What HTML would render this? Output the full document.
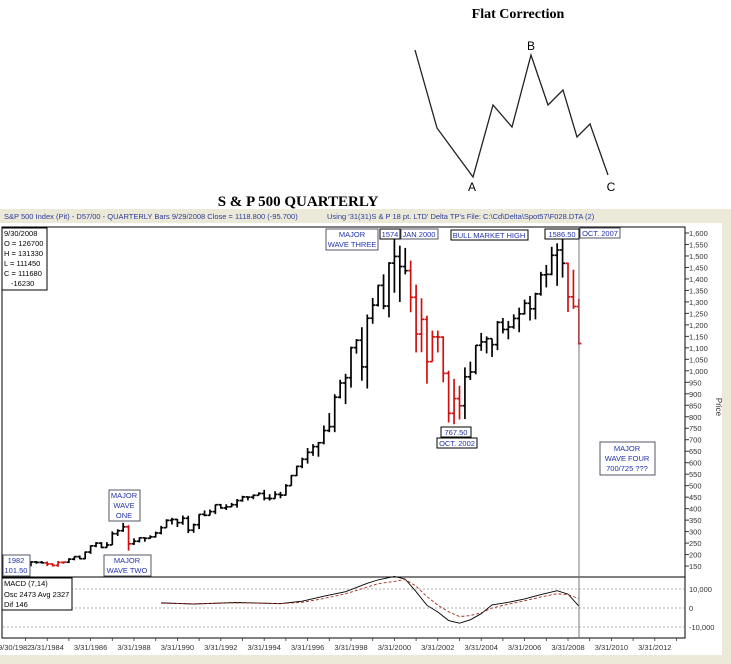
<!DOCTYPE html>
<html><head><meta charset="utf-8"><style>
html,body{margin:0;padding:0;background:#fff;}
svg{display:block;}
text{font-family:"Liberation Sans",sans-serif;}
.ser{font-family:"Liberation Serif",serif;font-weight:bold;}
</style></head><body>
<svg id="c" width="731" height="664" viewBox="0 0 731 664" xmlns="http://www.w3.org/2000/svg">
<text class="ser" x="518" y="18" font-size="14" text-anchor="middle">Flat Correction</text>
<g id="flat"></g>
<text x="472" y="191" font-size="12" text-anchor="middle">A</text>
<text x="531" y="50" font-size="12" text-anchor="middle">B</text>
<text x="611" y="191" font-size="12" text-anchor="middle">C</text>
<text class="ser" x="298" y="206" font-size="15" text-anchor="middle">S &amp; P 500 QUARTERLY</text>
<rect x="0" y="209" width="731" height="455" fill="#ece9d8"/>
<rect x="0" y="223" width="722" height="432" fill="#fff"/>
<text x="4" y="219" font-size="7.5" fill="#2a3c9a">S&amp;P 500 Index (Pit) - D57/00  - QUARTERLY Bars  9/29/2008 Close = 1118.800 (-95.700)</text>
<text x="327" y="219" font-size="7.5" fill="#2a3c9a">Using '31(31)S &amp; P 18 pt. LTD' Delta TP's    File: C:\Cd\Delta\Spot57\F028.DTA (2)</text>
<rect x="2" y="227" width="683" height="350" fill="none" stroke="#000" stroke-width="1"/>
<rect x="2" y="577" width="683" height="61" fill="none" stroke="#000" stroke-width="1"/>
<g id="yaxis"></g>
<g id="maxis"></g>
<g id="xaxis"></g>
<g id="bars"></g>
<g id="macd"></g>
<line x1="579" y1="227" x2="579" y2="638" stroke="#777" stroke-width="1"/>
<text x="716" y="407" font-size="8" fill="#333" transform="rotate(90 716 407)" text-anchor="middle">Price</text>
<g font-size="7.5" fill="#000">
<rect x="2" y="228" width="45" height="62" fill="#fff" stroke="#000"/>
<text x="4" y="236">9/30/2008</text>
<text x="4" y="246">O = 126700</text>
<text x="4" y="256">H = 131330</text>
<text x="4" y="266">L = 111450</text>
<text x="4" y="276">C = 111680</text>
<text x="11" y="286">-16230</text>
<rect x="2" y="578" width="70" height="32" fill="#fff" stroke="#000"/>
<text x="4" y="586">MACD (7,14)</text>
<text x="4" y="597">Osc 2473 Avg 2327</text>
<text x="4" y="607">Dif 146</text>
</g>
<g font-size="7.5" fill="#2233aa" text-anchor="middle">
<rect x="326" y="229" width="52" height="21" fill="#fff" stroke="#556"/>
<text x="352" y="237">MAJOR</text>
<text x="352" y="247">WAVE THREE</text>
<rect x="380" y="229" width="20" height="10" fill="#fff" stroke="#000"/>
<text x="390" y="237">1574</text>
<rect x="401" y="229" width="37" height="10" fill="#fff" stroke="#556"/>
<text x="419" y="237">JAN 2000</text>
<rect x="451" y="230" width="77" height="10" fill="#fff" stroke="#000"/>
<text x="489" y="238">BULL MARKET HIGH</text>
<rect x="545" y="229" width="34" height="10" fill="#fff" stroke="#000"/>
<text x="562" y="237">1586.50</text>
<rect x="580" y="228" width="40" height="10" fill="#fff" stroke="#556"/>
<text x="600" y="236">OCT. 2007</text>
<rect x="441" y="427" width="30" height="10" fill="#fff" stroke="#000"/>
<text x="456" y="435">767.50</text>
<rect x="437" y="438" width="40" height="10" fill="#fff" stroke="#000"/>
<text x="457" y="446">OCT. 2002</text>
<rect x="600" y="442" width="55" height="33" fill="#fff" stroke="#556"/>
<text x="627" y="451">MAJOR</text>
<text x="627" y="461">WAVE FOUR</text>
<text x="627" y="471">700/725 ???</text>
<rect x="109" y="490" width="31" height="31" fill="#fff" stroke="#556"/>
<text x="124" y="498">MAJOR</text>
<text x="124" y="508">WAVE</text>
<text x="124" y="518">ONE</text>
<rect x="104" y="555" width="47" height="21" fill="#fff" stroke="#556"/>
<text x="127" y="563">MAJOR</text>
<text x="127" y="573">WAVE TWO</text>
<rect x="3" y="555" width="27" height="21" fill="#fff" stroke="#556"/>
<text x="16" y="563">1982</text>
<text x="16" y="573">101.50</text>
</g>
</svg>
<script>
// Price data: quarterly bars from 1982 Q3 to 2008 Q3
const startYear = 1982, startQuarter = 3;
const highs = [124,143,154,171,172,172,170,162,172,170,184,192,196,213,240,254,254,254,301,310,338,328,271,275,275,284,300,325,354,360,355,370,369,335,376,392,396,418,420,419,425,442,456,453,462,471,482,463,476,473,507,546,587,622,664,681,690,762,816,898,961,987,1105,1138,1190,1245,1317,1375,1420,1473,1574,1545,1535,1480,1375,1316,1240,1175,1175,1150,1000,965,935,1015,1040,1112,1165,1150,1140,1217,1230,1217,1246,1275,1310,1326,1340,1431,1461,1540,1555,1586.5,1471,1440,1313.3];
const lows = [101.5,116,138,149,160,162,150,148,147,160,163,175,180,180,203,232,228,230,242,281,299,217,242,253,256,269,275,288,317,331,320,330,294,295,311,367,370,376,400,394,407,404,430,436,441,457,436,435,443,445,457,500,542,576,596,630,626,680,733,733,880,855,927,1075,957,923,1205,1280,1268,1233,1340,1300,1420,1255,1080,1081,944,1040,1080,950,775,767.5,788,790,960,985,1087,1076,1060,1090,1163,1137,1183,1168,1245,1219,1224,1327,1363,1416,1370,1406,1256,1270,1114.5];
const closes = [120,140,153,168,166,164,159,153,166,167,180,191,182,211,238,250,231,242,291,304,321,247,258,273,271,277,294,317,349,353,339,358,306,330,375,371,387,417,403,408,417,435,451,450,458,466,445,444,462,459,500,544,584,615,645,670,687,740,757,885,947,970,1101,1133,1017,1229,1286,1372,1282,1469,1498,1454,1436,1320,1160,1224,1040,1148,1147,989,815,879,848,974,995,1111,1126,1140,1114,1211,1180,1191,1228,1248,1294,1270,1335,1418,1420,1503,1526,1468,1322,1280,1118.8];
const firstOpen = 110;
// Corrective segments drawn in red (first and last bar index)
const redSegmentStarts = [6, 21, 73, 102];
const redSegmentEnds = [9, 21, 82, 104];
// MACD
const macdTimes = [1989.5,1991,1993,1995,1996,1997,1998,1999,1999.5,2000.25,2000.75,2001.25,2001.75,2002.25,2002.75,2003.25,2003.75,2004.25,2004.75,2005.5,2006.25,2007,2007.75,2008.25,2008.75];
const macdValues = [2700,2100,2900,2300,3600,6200,8600,13000,14800,16600,15200,8600,1400,-2100,-6600,-8000,-6200,-3000,1600,3000,4800,7100,9100,7300,1000];
const signalValues = [2500,2200,2700,2300,3000,5000,7500,11000,12800,14000,15000,11500,6000,1500,-2000,-4500,-4000,-2500,0,2000,3800,5800,7500,7000,5000];
// Axis ticks
const priceTicks = [1600,1550,1500,1450,1400,1350,1300,1250,1200,1150,1100,1050,1000,950,900,850,800,750,700,650,600,550,500,450,400,350,300,250,200,150];
const macdTicks = [10000,0,-10000];
const macdTickLabels = ["10,000","0","-10,000"];
const dateTickYears = [1982.75,1984.25,1986.25,1988.25,1990.25,1992.25,1994.25,1996.25,1998.25,2000.25,2002.25,2004.25,2006.25,2008.25,2010.25,2012.25];
const dateTickLabels = ["9/30/1982","3/31/1984","3/31/1986","3/31/1988","3/31/1990","3/31/1992","3/31/1994","3/31/1996","3/31/1998","3/31/2000","3/31/2002","3/31/2004","3/31/2006","3/31/2008","3/31/2010","3/31/2012"];
// Flat correction schematic (relative time and wave level)
const flatTimes = [0,22,58,78,97,116,133,148,162,175,193];
const flatLevels = [127,49,0,72,50,122,72,87,40,53,2];

const NS = "http://www.w3.org/2000/svg";
function mk(tag, attrs, parent){const e=document.createElementNS(NS,tag);for(const k in attrs)e.setAttribute(k,attrs[k]);parent.appendChild(e);return e;}
const xOf = t => 568 + (t - 2008.25) * 21.7;
const yOf = v => 233 + (1600 - v) * 0.2297;
const ymOf = v => 608 - v * 0.0019;

// Flat correction
(function(){
  const g=document.getElementById('flat');
  const pts=flatLevels.map((v,i)=>[415+flatTimes[i],177-v].join(',')).join(' ');
  const pl=mk('polyline',{points:pts,fill:'none',stroke:'#222','stroke-width':1.3},g);
  
  
})();

// Price axis
(function(){
  const g=document.getElementById('yaxis');
  priceTicks.forEach(v=>{
    const y=yOf(v);
    const l=mk('line',{x1:685,y1:y,x2:689,y2:y,stroke:'#333','stroke-width':1},g);
    
    
    const t=mk('text',{x:689,y:y+3,'font-size':7.5,fill:'#333'},g);
    t.textContent=v>=1000?Math.floor(v/1000)+','+String(v%1000).padStart(3,'0'):String(v);
    
    
  });
})();

// MACD axis + grid
(function(){
  const g=document.getElementById('maxis');
  macdTicks.forEach((v,i)=>{
    const y=ymOf(v);
    const l=mk('line',{x1:3,y1:y,x2:684,y2:y,stroke:'#999','stroke-width':0.8,'stroke-dasharray':'2,2'},g);
    
    
    const t=mk('text',{x:689,y:y+3,'font-size':7.5,fill:'#333'},g);
    t.textContent=macdTickLabels[i];
    
    
  });
})();

// Date axis
(function(){
  const g=document.getElementById('xaxis');
  for(let yr=1983;yr<=2013;yr++){
    const x=xOf(yr+0.25);
    if(x>684)break;
    const l=mk('line',{x1:x,y1:638,x2:x,y2:641,stroke:'#333','stroke-width':0.8},g);
    
    
  }
  dateTickYears.forEach((t,i)=>{
    const tx=mk('text',{x:xOf(t),y:650,'font-size':7.5,fill:'#333','text-anchor':'middle'},g);
    tx.textContent=dateTickLabels[i];
    
    
  });
})();

// Price bars
(function(){
  const g=document.getElementById('bars');
  for(let i=0;i<closes.length;i++){
    const t=startYear+(startQuarter+i)/4;
    const x=xOf(t);
    const open=i===0?firstOpen:closes[i-1];
    let red=false;
    for(let s=0;s<redSegmentStarts.length;s++) if(i>=redSegmentStarts[s]&&i<=redSegmentEnds[s]) red=true;
    const col=red?'#d01010':'#000';
    const b=mk('g',{stroke:col,'stroke-width':1.7},g);
    
    
    mk('line',{x1:x,y1:yOf(highs[i]),x2:x,y2:yOf(lows[i])},b);
    mk('line',{x1:x-2.5,y1:yOf(open),x2:x,y2:yOf(open)},b);
    mk('line',{x1:x,y1:yOf(closes[i]),x2:x+2.5,y2:yOf(closes[i])},b);
  }
})();

// MACD lines
(function(){
  const g=document.getElementById('macd');
  const p1=mk('polyline',{points:macdTimes.map((t,i)=>xOf(t)+','+ymOf(macdValues[i])).join(' '),fill:'none',stroke:'#000','stroke-width':0.9},g);
  
  
  const p2=mk('polyline',{points:macdTimes.map((t,i)=>xOf(t)+','+ymOf(signalValues[i])).join(' '),fill:'none',stroke:'#a03020','stroke-width':0.9,'stroke-dasharray':'3,2'},g);
  
  
})();
</script>
</body></html>
